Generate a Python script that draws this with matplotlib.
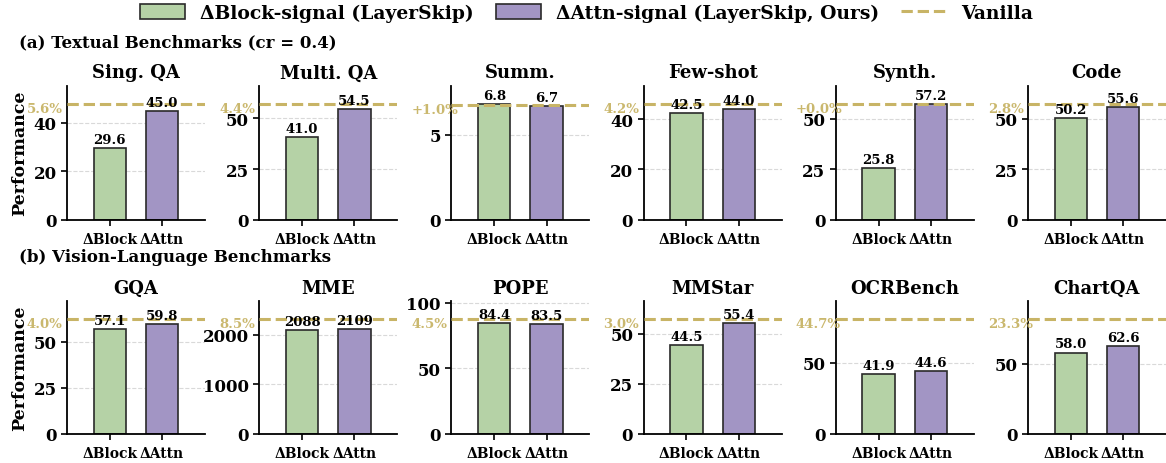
import numpy as np
import matplotlib
matplotlib.use("Agg")
import matplotlib.pyplot as plt
from matplotlib.patches import Patch
from matplotlib.lines import Line2D

plt.rcParams['font.family'] = 'DejaVu Serif'
plt.rcParams['font.weight'] = 'bold'

# (a) textual benchmarks
text_names = ['Sing. QA', 'Multi. QA', 'Summ.', 'Few-shot', 'Synth.', 'Code']
text_block = [29.6, 41.0, 6.8, 42.5, 25.8, 50.2]
text_attn = [45.0, 54.5, 6.7, 44.0, 57.2, 55.6]
text_vanilla = [47.7, 57.0, 6.75, 45.9, 57.2, 57.2]
text_gap = ['5.6%', '4.4%', '+1.0%', '4.2%', '+0.0%', '2.8%']
text_ticks = [[0, 20, 40], [0, 25, 50], [0, 5], [0, 20, 40], [0, 25, 50], [0, 25, 50]]

# (b) vision-language benchmarks
vl_names = ['GQA', 'MME', 'POPE', 'MMStar', 'OCRBench', 'ChartQA']
vl_block = [57.1, 2088, 84.4, 44.5, 41.9, 58.0]
vl_attn = [59.8, 2109, 83.5, 55.4, 44.6, 62.6]
vl_vanilla = [62.3, 2305, 87.4, 57.1, 80.7, 81.6]
vl_gap = ['4.0%', '8.5%', '4.5%', '3.0%', '44.7%', '23.3%']
vl_ticks = [[0, 25, 50], [0, 1000, 2000], [0, 50, 100], [0, 25, 50], [0, 50], [0, 50]]

xlabels = ['\u0394Block', '\u0394Attn']

GREEN = '#b5d2a6'
PURPLE = '#a295c4'
GOLD = '#c8b466'

W, H = 1166, 464
fig = plt.figure(figsize=(W / 100, H / 100), dpi=100)


def draw_panel(ax, name, b, a, v, gap, ticks, fmt, ylabel=False):
    ax.bar([0, 1], [b, a], width=0.62, color=[GREEN, PURPLE],
           edgecolor='#2a2a2a', linewidth=1.2, zorder=2)
    ax.axhline(v, color=GOLD, linestyle='--', linewidth=2.2, zorder=3)
    top = max(a, b, v) * 1.16
    ax.set_ylim(0, top)
    ax.set_xlim(-0.82, 1.82)
    ax.set_yticks(ticks)
    ax.set_xticks([0, 1])
    ax.set_xticklabels(xlabels, fontsize=10, fontweight='bold')
    ax.tick_params(axis='y', labelsize=12, width=1.2, length=4)
    ax.tick_params(axis='x', width=1.2, length=4, pad=5)
    for lab in ax.get_yticklabels():
        lab.set_fontweight('bold')
    ax.yaxis.grid(True, linestyle='--', color='#d9d9d9', linewidth=0.8, zorder=0)
    ax.set_axisbelow(True)
    for s in ['top', 'right']:
        ax.spines[s].set_visible(False)
    for s in ['left', 'bottom']:
        ax.spines[s].set_linewidth(1.3)
    for x, val in zip([0, 1], [b, a]):
        ax.annotate(fmt.format(val), xy=(x, val), xytext=(0, 1.5),
                    textcoords='offset points', ha='center', va='bottom',
                    fontsize=9.5, fontweight='bold', zorder=4)
    ax.annotate(gap, xy=(-0.29, v), xycoords=('axes fraction', 'data'),
                xytext=(0, -3), textcoords='offset points', ha='left',
                va='center', fontsize=9.5, fontweight='bold', color=GOLD,
                alpha=0.95, annotation_clip=False)
    ax.set_title(name, fontsize=13, fontweight='bold', pad=6)
    if ylabel:
        ax.set_ylabel('Performance', fontsize=12.5, fontweight='bold', labelpad=4)


aw = 138 / W
for i in range(6):
    left = (67 + 192.2 * i) / W
    ax = fig.add_axes([left, 243.3 / H, aw, 134 / H])
    draw_panel(ax, text_names[i], text_block[i], text_attn[i], text_vanilla[i],
               text_gap[i], text_ticks[i], '{:.1f}', ylabel=(i == 0))
    ax = fig.add_axes([left, 29 / H, aw, 133 / H])
    fmt = '{:.0f}' if vl_names[i] == 'MME' else '{:.1f}'
    draw_panel(ax, vl_names[i], vl_block[i], vl_attn[i], vl_vanilla[i],
               vl_gap[i], vl_ticks[i], fmt, ylabel=(i == 0))

fig.text(19 / W, 1 - 43 / H, '(a) Textual Benchmarks (cr = 0.4)', fontsize=12,
         fontweight='bold', ha='left', va='center')
fig.text(19 / W, 1 - 258 / H, '(b) Vision-Language Benchmarks', fontsize=12,
         fontweight='bold', ha='left', va='center')

handles = [
    Patch(facecolor=GREEN, edgecolor='#2a2a2a', linewidth=1.2, label='\u0394Block-signal (LayerSkip)'),
    Patch(facecolor=PURPLE, edgecolor='#2a2a2a', linewidth=1.2, label='\u0394Attn-signal (LayerSkip, Ours)'),
    Line2D([0], [0], color=GOLD, linestyle='--', linewidth=2.2, label='Vanilla'),
]
fig.legend(handles=handles, loc='center', bbox_to_anchor=(0.503, 1 - 14 / H),
           ncol=3, frameon=False, prop={'size': 13.5, 'weight': 'bold'},
           handlelength=2.4, handleheight=0.8, handletextpad=0.8, columnspacing=1.2)

fig.savefig('out.png', dpi=100)
